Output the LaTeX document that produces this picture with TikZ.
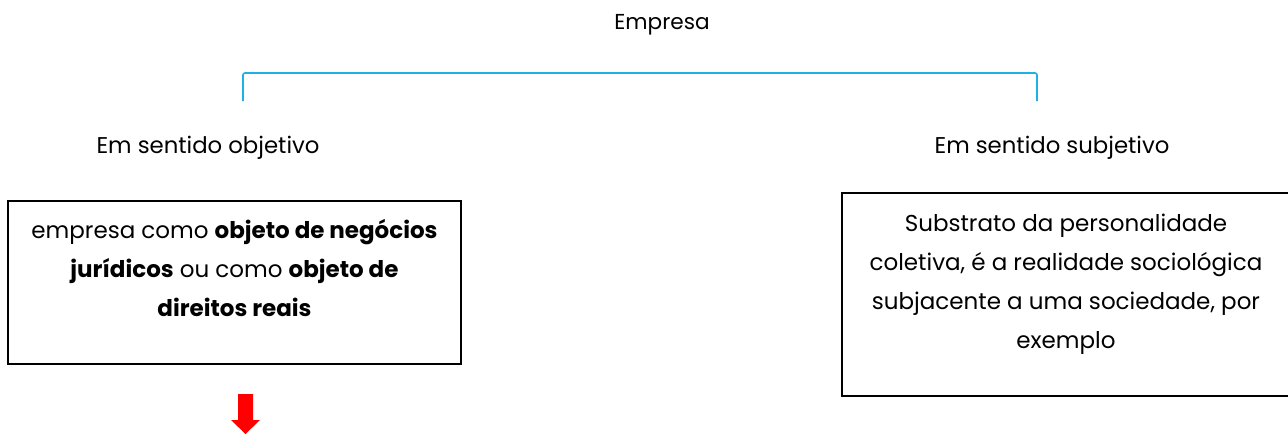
\documentclass[tikz,border=0pt]{standalone}
\usepackage{fontspec}
\setmainfont{Poppins}
\definecolor{bracketblue}{HTML}{1FB0E4}
\definecolor{arrowred}{HTML}{FF0000}
\tikzset{
  lbl/.style={font=\fontsize{22.8}{26}\selectfont, inner sep=0pt},
  ttl/.style={font=\fontsize{21.6}{26}\selectfont, inner sep=0pt},
  boxframe/.style={draw=black, line width=1.6pt, inner sep=0pt, fill=white},
  boxtext/.style={font=\fontsize{23}{38.7}\selectfont, align=center, inner sep=0pt},
  bracket/.style={draw=bracketblue, line width=1.6pt, rounded corners=2pt},
}
\begin{document}
\begin{tikzpicture}[x=1pt,y=-1pt]
\useasboundingbox (0,0) rectangle (1288,434);
\node[ttl] (title) at (662,25) {Empresa};
\coordinate (bl) at (243,101);
\coordinate (br) at (1037,101);
\draw[bracket] (bl) -- (243,73) -- (1037,73) -- (br);
\node[lbl] (lobj) at (208,148) {Em sentido objetivo};
\node[lbl] (lsub) at (1052,148) {Em sentido subjetivo};
\begin{scope}
\clip (0,0) rectangle (1288,434);
\node[boxframe, minimum width=453pt, minimum height=163pt] (bobj) at (234.5,282.5) {};
\node[boxframe, minimum width=450pt, minimum height=203pt] (bsub) at (1067,294.5) {};
\end{scope}
\node[boxtext, anchor=base] (tobj) at (234.5,316) {empresa como \textbf{objeto de negócios}\\\textbf{jurídicos} ou como \textbf{objeto de}\\\textbf{direitos reais}};
\node[boxtext, anchor=base] (tsub) at (1066,348) {Substrato da personalidade\\coletiva, é a realidade sociológica\\subjacente a uma sociedade, por\\exemplo};
\fill[arrowred] (238,394) -- (253,394) -- (253,420) -- (260,420) -- (245.5,434) -- (231,420) -- (238,420) -- cycle;
\end{tikzpicture}
\end{document}
